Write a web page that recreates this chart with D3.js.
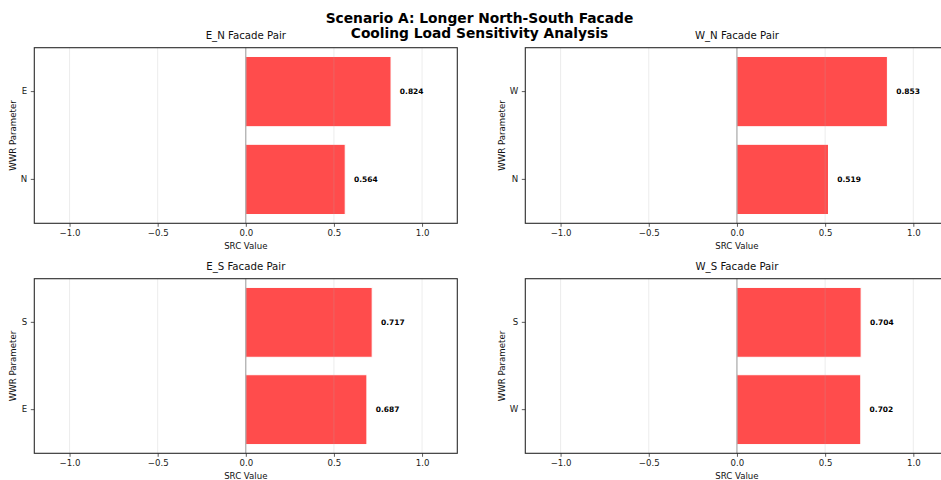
<!DOCTYPE html>
<html>
<head>
<meta charset="utf-8">
<script src="https://cdn.jsdelivr.net/npm/d3@7"></script>
<style>
  html, body { margin: 0; padding: 0; background: #fff; }
  svg { display: block; font-family: "DejaVu Sans", sans-serif; }
</style>
</head>
<body>
<svg id="chart" width="941" height="480"></svg>
<script>
// Sensitivity (SRC) of cooling load to window-to-wall ratio, per facade pair
const mainTitle = ["Scenario A: Longer North-South Facade", "Cooling Load Sensitivity Analysis"];
const pairTitles = ["E_N Facade Pair", "W_N Facade Pair", "E_S Facade Pair", "W_S Facade Pair"];
// parameters listed bottom to top
const pairParams = [["N", "E"], ["N", "W"], ["E", "S"], ["W", "S"]];
const pairSRC = [[0.564, 0.824], [0.519, 0.853], [0.687, 0.717], [0.702, 0.704]];
const xTicks = [-1.0, -0.5, 0.0, 0.5, 1.0];
const xDomain = [-1.2, 1.2];

const svg = d3.select("#chart");

// figure title
svg.append("text")
  .attr("x", 479.5).attr("y", 23)
  .attr("text-anchor", "middle")
  .attr("font-size", 13.8).attr("font-weight", "bold")
  .selectAll("tspan").data(mainTitle).join("tspan")
  .attr("x", 479.5).attr("dy", (d, i) => i === 0 ? 0 : 15.2)
  .text(d => d);

// panel frames: left, top, width, height, ylabel baseline x
const panels = [
  { x: 34.3, y: 47.7, w: 423, h: 175.6, yl: 16 },
  { x: 525.3, y: 47.7, w: 423.3, h: 175.6, yl: 505 },
  { x: 34.3, y: 278.7, w: 423, h: 174.6, yl: 16 },
  { x: 525.3, y: 278.7, w: 423.3, h: 174.6, yl: 505 }
];

const fmt = d => d3.format(".1f")(d).replace("-", "\u2212");

panels.forEach((p, k) => {
  const g = svg.append("g").attr("transform", `translate(${p.x},${p.y})`);
  const x = d3.scaleLinear().domain(xDomain).range([0, p.w]);
  const y = d3.scaleBand()
    .domain(pairParams[k].slice().reverse())
    .range([0, p.h])
    .paddingInner(0.2).paddingOuter(0.1);

  const rows = pairParams[k].map((name, i) => ({ name, v: pairSRC[k][i] }));

  // bars
  g.selectAll("rect.bar").data(rows).join("rect")
    .attr("class", "bar")
    .attr("x", d => x(Math.min(0, d.v)))
    .attr("y", d => y(d.name))
    .attr("width", d => Math.abs(x(d.v) - x(0)))
    .attr("height", y.bandwidth())
    .attr("fill", "#ff0000").attr("fill-opacity", 0.7)
    .attr("stroke", "#ffffff").attr("stroke-width", 1);

  // vertical grid
  g.selectAll("line.grid").data(xTicks).join("line")
    .attr("class", "grid")
    .attr("x1", d => x(d)).attr("x2", d => x(d))
    .attr("y1", 0).attr("y2", p.h)
    .attr("stroke", "#b0b0b0").attr("stroke-opacity", 0.3).attr("stroke-width", 0.8);

  // zero reference line
  g.append("line")
    .attr("x1", x(0)).attr("x2", x(0))
    .attr("y1", 0).attr("y2", p.h)
    .attr("stroke", "#000").attr("stroke-opacity", 0.35).attr("stroke-width", 1);

  // value labels
  g.selectAll("text.val").data(rows).join("text")
    .attr("class", "val")
    .attr("x", d => x(d.v + 0.05))
    .attr("y", d => y(d.name) + y.bandwidth() / 2)
    .attr("dy", "0.35em")
    .attr("font-size", 7.5).attr("font-weight", "bold")
    .attr("fill", "#000")
    .text(d => d.v.toFixed(3));

  // axes
  const xAxis = g.append("g").attr("transform", `translate(0,${p.h})`)
    .call(d3.axisBottom(x).tickValues(xTicks).tickFormat(fmt).tickSize(3.5).tickPadding(3.2));
  const yAxis = g.append("g")
    .call(d3.axisLeft(y).tickSize(3.5).tickPadding(3.5));
  [xAxis, yAxis].forEach(a => {
    a.select(".domain").remove();
    a.selectAll("line").attr("stroke", "#333").attr("stroke-width", 0.8);
    a.selectAll("text").attr("font-size", 8.6).attr("fill", "#1a1a1a")
      .attr("font-family", "DejaVu Sans, sans-serif");
  });

  // frame
  g.append("rect")
    .attr("x", 0).attr("y", 0).attr("width", p.w).attr("height", p.h)
    .attr("fill", "none").attr("stroke", "#2b2b2b").attr("stroke-width", 1.1);

  // panel title
  g.append("text")
    .attr("x", p.w / 2).attr("y", -9)
    .attr("text-anchor", "middle")
    .attr("font-size", 10.2).attr("fill", "#111")
    .text(pairTitles[k]);

  // axis labels
  g.append("text")
    .attr("x", p.w / 2).attr("y", p.h + 26)
    .attr("text-anchor", "middle")
    .attr("font-size", 8.6).attr("fill", "#111")
    .text("SRC Value");

  svg.append("text")
    .attr("transform", `translate(${p.yl},${p.y + p.h / 2}) rotate(-90)`)
    .attr("text-anchor", "middle")
    .attr("font-size", 8.6).attr("fill", "#111")
    .text("WWR Parameter");
});
</script>
</body>
</html>
